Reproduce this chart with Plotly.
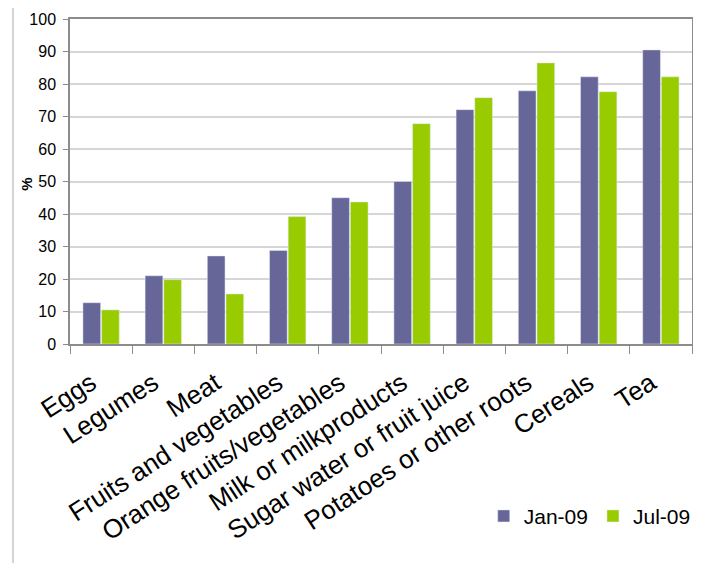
import plotly.graph_objects as go

categories = ["Eggs", "Legumes", "Meat", "Fruits and vegetables", "Orange fruits/vegetables",
              "Milk or milkproducts", "Sugar water or fruit juice", "Potatoes or other roots",
              "Cereals", "Tea"]
jan09 = [12.7, 21.0, 27.1, 28.8, 45.0, 50.0, 72.1, 77.9, 82.2, 90.5]
jul09 = [10.5, 19.8, 15.4, 39.2, 43.7, 67.8, 75.8, 86.5, 77.6, 82.2]

FONT = "Liberation Sans, Arial, sans-serif"

fig = go.Figure()
fig.add_trace(go.Bar(name="Jan-09", x=categories, y=jan09, marker_color="#666699"))
fig.add_trace(go.Bar(name="Jul-09", x=categories, y=jul09, marker_color="#99CC00"))

# page body has an 8px margin, so shift the figure up/left by 8px
fig.update_layout(
    width=701, height=563,
    margin=dict(l=62, r=17, t=11, b=227, autoexpand=False),
    paper_bgcolor="white", plot_bgcolor="white",
    barmode="group", bargap=0.4, bargroupgap=0.05,
    font=dict(family=FONT, color="black"),
    showlegend=True,
    legend=dict(orientation="h", x=1.006, xanchor="right", y=-0.53, yanchor="middle",
                font=dict(size=21, family=FONT), itemwidth=30, tracegroupgap=0,
                bgcolor="rgba(0,0,0,0)"),
)

fig.update_xaxes(
    type="category", showline=True, linecolor="#8c8c8c", linewidth=1.5, mirror=True,
    ticks="outside", tickson="boundaries", ticklen=8, tickcolor="#8c8c8c",
    tickangle=-33, tickfont=dict(size=26, family=FONT), showgrid=False,
    ticklabelstandoff=12, ticklabelshift=-10,
)
fig.update_yaxes(
    range=[0, 100], dtick=10, showline=True, linecolor="#8c8c8c", linewidth=1.5, mirror=True,
    ticks="outside", ticklen=5, tickcolor="#8c8c8c",
    gridcolor="#d6d6d6", gridwidth=1.5, zeroline=False,
    tickfont=dict(size=16, family=FONT), ticklabelstandoff=4,
)

fig.add_annotation(text="<b>%</b>", xref="paper", yref="paper", x=-0.069, y=0.49,
                   textangle=-90, showarrow=False, font=dict(size=15, family=FONT),
                   xanchor="center", yanchor="middle")

fig.add_shape(type="rect", xref="paper", yref="paper",
              x0=-0.0916, x1=1.0048, y0=-0.72, y1=1.043,
              line=dict(color="#d4d4d4", width=2), fillcolor="rgba(0,0,0,0)", layer="below")

fig.write_html("out.html")
